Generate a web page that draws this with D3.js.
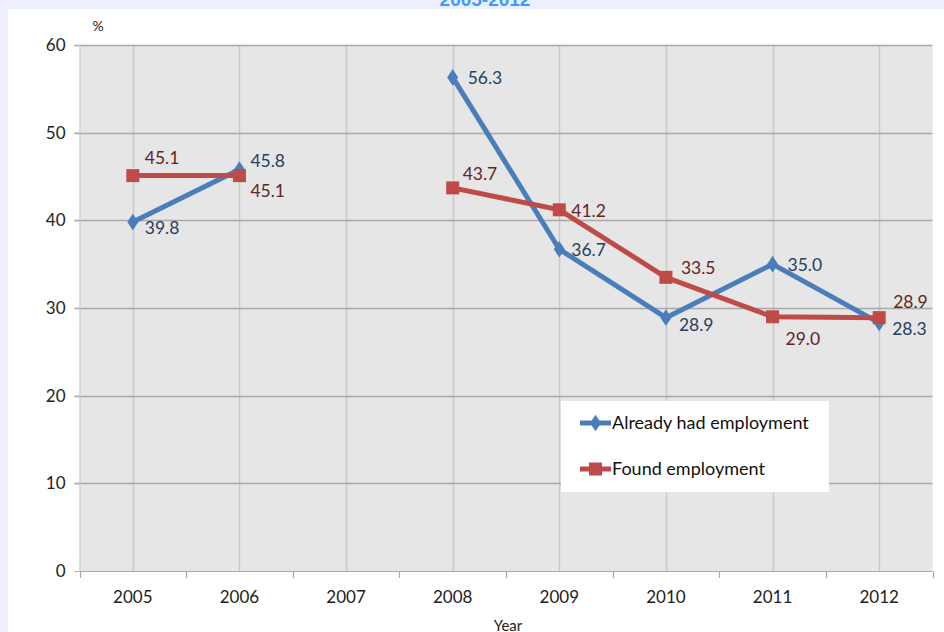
<!DOCTYPE html>
<html>
<head>
<meta charset="utf-8">
<script src="https://cdn.jsdelivr.net/npm/d3@7"></script>
<style>
  html, body { margin: 0; padding: 0; background: #edeffc; }
  svg { display: block; font-family: Lato, "Liberation Sans", sans-serif; }
</style>
</head>
<body>
<svg id="chart" width="944" height="632"></svg>
<script>
// Share of respondents by employment status, per survey year (%)
const years = ["2005", "2006", "2007", "2008", "2009", "2010", "2011", "2012"];
const alreadyEmployed = [39.8, 45.8, null, 56.3, 36.7, 28.9, 35.0, 28.3];
const foundEmployment = [45.1, 45.1, null, 43.7, 41.2, 33.5, 29.0, 28.9];
const yTicks = [0, 10, 20, 30, 40, 50, 60];
const seriesNames = ["Already had employment", "Found employment"];
// label offsets (dx, dy) relative to each point, per series
const alreadyLabelOffsets = [[12, 6], [11, -9], [0, 0], [15, 0], [12, 1], [13, 7], [15, 1], [13, 6]];
const foundLabelOffsets = [[12, -18], [11, 15], [0, 0], [10, -14], [12, 1], [15, -9], [13, 22], [14, -16]];

const svg = d3.select("#chart");

// white chart panel
svg.append("rect").attr("x", 8).attr("y", 9).attr("width", 936).attr("height", 623).attr("fill", "#ffffff");

// title (runs off the top edge)
svg.append("text").attr("x", 485).attr("y", 6).attr("text-anchor", "middle")
  .attr("font-family", "'Liberation Sans', Arial, sans-serif")
  .attr("font-weight", "bold").attr("font-size", 19).attr("fill", "#3d9bff")
  .text("2005-2012");

const plotLeft = 79.5, plotRight = 932.5, plotTop = 45, plotBottom = 571;
const x = d3.scaleBand().domain(years).range([plotLeft, plotRight]);
const y = d3.scaleLinear().domain([0, 60]).range([plotBottom, plotTop]);
const cx = d => x(d) + x.bandwidth() / 2;

// plot area
svg.append("rect").attr("x", plotLeft).attr("y", plotTop).attr("width", plotRight - plotLeft).attr("height", plotBottom - plotTop)
  .attr("fill", "#e6e6e6");

// vertical gridlines at category centres
svg.append("g").selectAll("line").data(years).join("line")
  .attr("x1", d => Math.round(cx(d)) + 0.5).attr("x2", d => Math.round(cx(d)) + 0.5)
  .attr("y1", plotTop).attr("y2", plotBottom)
  .attr("stroke", "#c9c9c9").attr("stroke-width", 1.5);

// horizontal gridlines
svg.append("g").selectAll("line").data(yTicks.filter(t => t > 0)).join("line")
  .attr("x1", plotLeft - 5).attr("x2", plotRight)
  .attr("y1", d => Math.round(y(d)) + 0.5).attr("y2", d => Math.round(y(d)) + 0.5)
  .attr("stroke", "#a9a9a9").attr("stroke-width", 1.5);

// y axis
const yAxis = d3.axisLeft(y).tickValues(yTicks).tickSize(5).tickPadding(9);
const gy = svg.append("g").attr("transform", `translate(${plotLeft},0)`).call(yAxis);
gy.select(".domain").attr("stroke", "#c8c8c8");
gy.selectAll(".tick line").attr("stroke", "#b0b0b0");
gy.selectAll("text").attr("font-size", 17).attr("fill", "#222").attr("font-family", "Lato, sans-serif");

// x axis: ticks on category boundaries
const boundaries = d3.range(years.length + 1).map(i => plotLeft + i * x.bandwidth());
svg.append("line").attr("x1", plotLeft).attr("x2", plotRight).attr("y1", plotBottom + 0.5).attr("y2", plotBottom + 0.5)
  .attr("stroke", "#a9a9a9").attr("stroke-width", 1.2);
svg.append("g").selectAll("line").data(boundaries).join("line")
  .attr("x1", d => Math.round(d) + 0.5).attr("x2", d => Math.round(d) + 0.5)
  .attr("y1", plotBottom).attr("y2", plotBottom + 7)
  .attr("stroke", "#a9a9a9").attr("stroke-width", 1.2);
svg.append("g").selectAll("text").data(years).join("text")
  .attr("x", d => cx(d)).attr("y", 603).attr("text-anchor", "middle")
  .attr("font-size", 17).attr("fill", "#222").text(d => d);

// axis titles
svg.append("text").attr("x", 98).attr("y", 31).attr("text-anchor", "middle")
  .attr("font-size", 14).attr("fill", "#222").text("%");
svg.append("text").attr("x", 508).attr("y", 631).attr("text-anchor", "middle")
  .attr("font-size", 15).attr("fill", "#222").text("Year");

// series
const series = [
  { name: seriesNames[0], values: alreadyEmployed, color: "#4a7ebb", label: "#243f60", offsets: alreadyLabelOffsets, marker: "diamond" },
  { name: seriesNames[1], values: foundEmployment, color: "#be4b48", label: "#632523", offsets: foundLabelOffsets, marker: "square" }
];

const line = d3.line().defined(d => d.v != null).x(d => cx(d.year)).y(d => y(d.v));

function drawMarker(g, type, px, py, color) {
  if (type === "diamond") {
    g.append("path").attr("d", d3.symbol(d3.symbolDiamond, 80)()).attr("transform", `translate(${px},${py}) scale(1.15,1)`)
      .attr("fill", color);
  } else {
    g.append("rect").attr("x", px - 6.5).attr("y", py - 6.5).attr("width", 13).attr("height", 13).attr("fill", color);
  }
}

series.forEach(s => {
  const pts = years.map((yr, i) => ({ year: yr, v: s.values[i] }));
  svg.append("path").datum(pts).attr("d", line).attr("fill", "none")
    .attr("stroke", s.color).attr("stroke-width", 5).attr("stroke-linejoin", "round");
});

series.forEach(s => {
  const g = svg.append("g");
  years.forEach((yr, i) => {
    if (s.values[i] == null) return;
    drawMarker(g, s.marker, cx(yr), y(s.values[i]), s.color);
  });
});

series.forEach(s => {
  years.forEach((yr, i) => {
    const v = s.values[i];
    if (v == null) return;
    const [dx, dy] = s.offsets[i];
    svg.append("text").attr("x", cx(yr) + dx).attr("y", y(v) + dy).attr("dy", "0.35em")
      .attr("font-size", 17.5).attr("fill", s.label).text(v.toFixed(1));
  });
});

// legend
const lg = svg.append("g");
lg.append("rect").attr("x", 561).attr("y", 401).attr("width", 268).attr("height", 91).attr("fill", "#ffffff");
series.forEach((s, i) => {
  const ly = 423 + i * 46;
  lg.append("line").attr("x1", 580).attr("x2", 611).attr("y1", ly).attr("y2", ly)
    .attr("stroke", s.color).attr("stroke-width", 5);
  drawMarker(lg, s.marker, 595.5, ly, s.color);
  lg.append("text").attr("x", 612).attr("y", ly).attr("dy", "0.35em")
    .attr("font-size", 18).attr("fill", "#111").text(s.name);
});
</script>
</body>
</html>
